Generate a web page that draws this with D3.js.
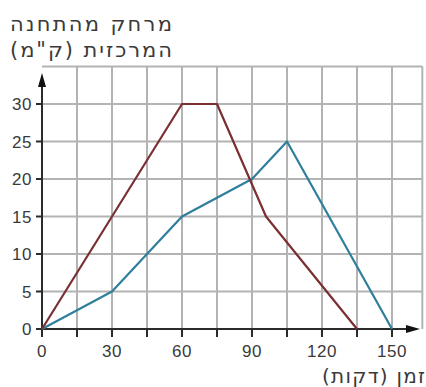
<!DOCTYPE html>
<html><head><meta charset="utf-8">
<script src="https://cdn.jsdelivr.net/npm/d3@7"></script>
<style>html,body{margin:0;padding:0;background:#fff;}svg{display:block;}</style>
</head><body>
<script>
// Data
const redTimes = [0, 60, 75, 96, 135];
const redDist  = [0, 30, 30, 15, 0];
const blueTimes = [0, 30, 60, 90, 105, 150];
const blueDist  = [0, 5, 15, 20, 25, 0];
const xTicks = [0, 30, 60, 90, 120, 150];
const yTicks = [0, 5, 10, 15, 20, 25, 30];
const yTitle = ["מרחק מהתחנה", "המרכזית (ק\"מ)"];
const xTitle = "זמן (דקות)";

const W = 426, H = 387;
const x = d3.scaleLinear().domain([0, 150]).range([42, 392]);
const y = d3.scaleLinear().domain([0, 30]).range([329, 104]);
const xMax = 163, yMax = 35;

const svg = d3.select("body").append("svg").attr("width", W).attr("height", H);
const font = "'Liberation Sans', Arial, sans-serif";
const titleFont = "'DejaVu Sans', 'Liberation Sans', sans-serif";
const textColor = "#3a3a3a";

// grid
const g = svg.append("g");
g.selectAll("line.v").data(d3.range(15, xMax, 15).concat([xMax])).join("line")
  .attr("x1", d => x(d)).attr("x2", d => x(d))
  .attr("y1", y(0)).attr("y2", y(yMax))
  .attr("stroke", "#b3b3b3").attr("stroke-width", 2);
g.selectAll("line.h").data(d3.range(5, yMax + 1, 5)).join("line")
  .attr("x1", x(0)).attr("x2", x(xMax))
  .attr("y1", d => y(d)).attr("y2", d => y(d))
  .attr("stroke", "#b3b3b3").attr("stroke-width", 2);

// axes
const axisColor = "#2b2b2b";
svg.append("line").attr("x1", x(0)).attr("x2", x(0)).attr("y1", y(0) + 4).attr("y2", 84)
  .attr("stroke", axisColor).attr("stroke-width", 2);
svg.append("path").attr("d", `M${x(0)},73 L${x(0) - 4},87 L${x(0) + 4},87 Z`).attr("fill", "#111");
svg.append("line").attr("x1", x(0) - 4).attr("x2", 410).attr("y1", y(0)).attr("y2", y(0))
  .attr("stroke", axisColor).attr("stroke-width", 2);
svg.append("path").attr("d", `M420,${y(0)} L406,${y(0) - 4} L406,${y(0) + 4} Z`).attr("fill", "#111");

// tick marks
svg.selectAll("line.yt").data(yTicks).join("line")
  .attr("x1", x(0) - 6).attr("x2", x(0)).attr("y1", d => y(d)).attr("y2", d => y(d))
  .attr("stroke", axisColor).attr("stroke-width", 2);
svg.selectAll("line.xt").data(d3.range(0, 151, 15)).join("line")
  .attr("x1", d => x(d)).attr("x2", d => x(d)).attr("y1", y(0)).attr("y2", y(0) + 8)
  .attr("stroke", axisColor).attr("stroke-width", 2);

// tick labels
svg.selectAll("text.yl").data(yTicks).join("text")
  .attr("x", 32).attr("y", d => y(d) + 6).attr("text-anchor", "end")
  .attr("font-family", font).attr("font-size", 17).attr("letter-spacing", 0.5)
  .attr("fill", textColor).text(d => d);
svg.selectAll("text.xl").data(xTicks).join("text")
  .attr("x", d => x(d)).attr("y", 357).attr("text-anchor", "middle")
  .attr("font-family", font).attr("font-size", 17).attr("letter-spacing", 0.5)
  .attr("fill", textColor).text(d => d);

// titles
svg.selectAll("text.ytt").data(yTitle).join("text")
  .attr("x", 172).attr("y", (d, i) => 31 + i * 26)
  .attr("direction", "rtl").attr("text-anchor", "start")
  .attr("font-family", titleFont).attr("font-size", 21)
  .attr("textLength", 162).attr("lengthAdjust", "spacing")
  .attr("fill", textColor).text(d => d);
svg.append("text").attr("x", 425).attr("y", 383)
  .attr("direction", "rtl").attr("text-anchor", "start")
  .attr("font-family", titleFont).attr("font-size", 20)
  .attr("textLength", 103).attr("lengthAdjust", "spacing")
  .attr("fill", textColor).text(xTitle);

// series
const line = d3.line().x(d => x(d[0])).y(d => y(d[1]));
svg.append("path").datum(d3.zip(blueTimes, blueDist)).attr("d", line)
  .attr("fill", "none").attr("stroke", "#2f7e9c").attr("stroke-width", 2.2).attr("stroke-linejoin", "round");
svg.append("path").datum(d3.zip(redTimes, redDist)).attr("d", line)
  .attr("fill", "none").attr("stroke", "#7a2f33").attr("stroke-width", 2.2).attr("stroke-linejoin", "round");
</script>
</body></html>
